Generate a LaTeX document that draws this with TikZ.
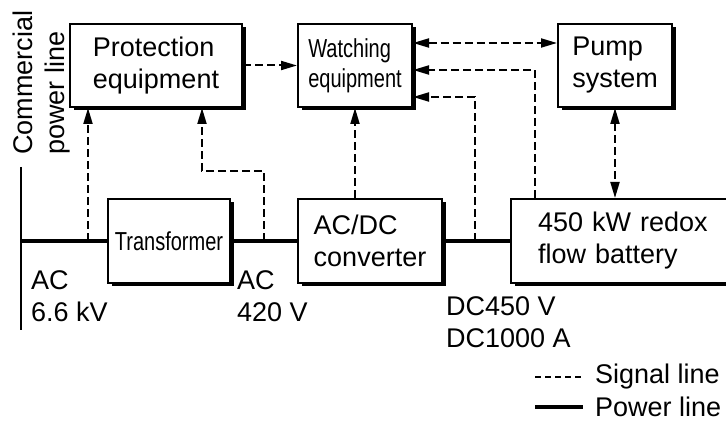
\documentclass[tikz,border=0pt]{standalone}
\usepackage{fontspec}
\setmainfont{Liberation Sans}
\newfontfamily\narrowfont[FakeStretch=0.77]{Liberation Sans}
\usetikzlibrary{arrows.meta,shadows}
\begin{document}
\begin{tikzpicture}[x=1pt,y=1pt,
  txt/.style={font=\fontsize{27}{32}\selectfont, align=left, inner sep=0pt},
  ntxt/.style={font=\narrowfont\fontsize{26}{30}\selectfont, align=left, inner sep=0pt},
  box/.style={draw, line width=2pt, fill=white, minimum height=84pt, inner sep=0pt,
    drop shadow={shadow xshift=3.5pt, shadow yshift=-3.5pt, fill=black, opacity=1}},
  sig/.style={line width=2pt, dash pattern=on 8pt off 4pt},
  sarrow/.style={sig, -{Triangle[length=16pt,width=9pt]}},
  darrow/.style={sig, {Triangle[length=16pt,width=9pt]}-{Triangle[length=16pt,width=9pt]}},
  pwr/.style={line width=4.5pt},
]
\clip (0,0) rectangle (726,423);
\fill[white] (0,0) rectangle (726,423);

% boxes
\node[box, txt, minimum width=172pt, minimum height=83pt] (prot) at (156,357.5) {Protection\\equipment};
\node[box, ntxt, minimum width=114pt, minimum height=83pt] (wat) at (355,357.5) {Watching\\equipment};
\node[box, txt, minimum width=114pt, minimum height=83pt] (pump) at (615,357.5) {Pump\\system};
\node[box, ntxt, minimum width=122pt] (trans) at (169,182) {Transformer};
\node[box, txt, minimum width=144pt] (conv) at (370,182) {AC/DC\\converter};
\node[box, txt, anchor=west, inner xsep=27pt, text width=190pt] (bat) at (510,182) {450 kW redox\\flow battery};

% commercial power line
\coordinate (cpt) at (21,256);
\coordinate (cpb) at (21,93);
\coordinate (cpm) at (21,182);
\draw[line width=2.5pt] (cpt) -- (cpb);
\node[txt, rotate=90, anchor=west] (cpl) at (42,268) {Commercial\\power line};

% power lines
\draw[pwr] (cpm) -- (trans.west);
\draw[pwr] (trans.east) -- (conv.west);
\draw[pwr] (conv.east) -- (bat.west);

% signal lines
\coordinate (p1) at (88,182);
\coordinate (p2) at (264,182);
\coordinate (p3) at (475,182);
\draw[sarrow] (p1) -- (p1 |- prot.south);
\draw[sarrow] (p2) -- ++(0,70) -| ([xshift=46pt]prot.south);
\draw[sarrow] (prot.east) -- (wat.west);
\draw[sarrow] (wat.south |- conv.north) -- (wat.south);
\draw[darrow] ([yshift=22.5pt]wat.east) -- ([yshift=22.5pt]pump.west);
\draw[sarrow] ([xshift=25pt]bat.north west) |- ([yshift=-4.5pt]wat.east);
\draw[sarrow] (p3) |- ([yshift=-31.5pt]wat.east);
\draw[darrow] (pump.south) -- (pump.south |- bat.north);

% labels
\node[txt, anchor=west] (l1) at (31,127) {AC\\6.6 kV};
\node[txt, anchor=west] (l2) at (237,127) {AC\\420 V};
\node[txt, anchor=west] (l3) at (446,101) {DC450 V\\DC1000 A};

% legend
\coordinate (sa) at (535,46);
\coordinate (sb) at (583,46);
\coordinate (pa) at (535,16);
\coordinate (pb) at (583,16);
\draw[line width=2pt, dash pattern=on 6pt off 4pt] (sa) -- (sb);
\draw[line width=4pt] (pa) -- (pb);
\node[txt, anchor=west] (ls) at (595,46) {Signal line};
\node[txt, anchor=west] (lp) at (595,16) {Power line};
\end{tikzpicture}
\end{document}
